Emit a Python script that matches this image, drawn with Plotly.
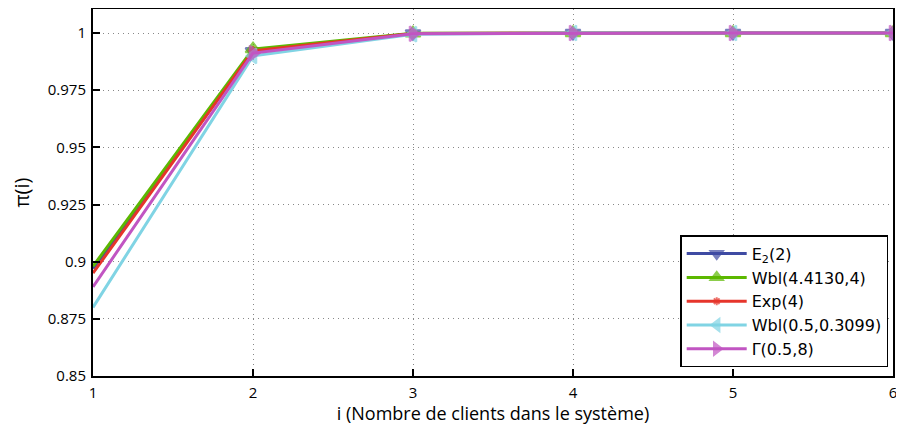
import plotly.graph_objects as go

x = [1, 2, 3, 4, 5, 6]
names = ["E<sub>2</sub>(2)", "Wbl(4.4130,4)", "Exp(4)", "Wbl(0.5,0.3099)", "Γ(0.5,8)"]
e2 = [0.897, 0.9920, 0.9998, 1.0, 1.0, 1.0]
wbl1 = [0.898, 0.9930, 0.9999, 1.0, 1.0, 1.0]
exp4 = [0.895, 0.9922, 0.9998, 1.0, 1.0, 1.0]
wbl2 = [0.880, 0.9900, 0.9995, 1.0, 1.0, 1.0]
gam = [0.889, 0.9912, 0.9997, 1.0, 1.0, 1.0]
series = [e2, wbl1, exp4, wbl2, gam]
colors = ["#3f4ba3", "#5cb800", "#e6352b", "#80d4e4", "#c155c2"]
symbols = ["triangle-down", "triangle-up", "asterisk", "triangle-left", "triangle-right"]
sizes = [13, 13, 8, 13, 13]

fig = go.Figure()
for n, y, c, s, sz in zip(names, series, colors, symbols, sizes):
    fig.add_trace(go.Scatter(
        x=x, y=y, name=n, mode="lines+markers",
        line=dict(color=c, width=3),
        marker=dict(symbol=s, size=[0] + [sz] * (len(x) - 1), color=c,
                    line=dict(color=c, width=2)),
    ))

tick_font = dict(family="Open Sans, DejaVu Sans, sans-serif", size=15, color="black")
axis_common = dict(
    showline=True, linecolor="black", linewidth=2, mirror=True,
    ticks="inside", ticklen=7, tickcolor="black", tickwidth=1.5,
    showgrid=True, gridcolor="#888", griddash="1px,4px", gridwidth=1,
    zeroline=False, tickfont=tick_font, automargin=False,
)
fig.update_layout(
    width=896, height=417,
    margin=dict(l=85, r=11, t=1, b=49),
    paper_bgcolor="white", plot_bgcolor="white",
    font=tick_font,
    showlegend=True,
    legend=dict(
        x=0.994, y=0.024, xanchor="right", yanchor="bottom",
        bordercolor="black", borderwidth=1.5, bgcolor="white",
        font=dict(family="DejaVu Sans, sans-serif", size=16, color="black"),
        tracegroupgap=0, itemwidth=60,
    ),
    xaxis=dict(axis_common, range=[1, 6], tickvals=[1, 2, 3, 4, 5, 6],
               ticklabelstandoff=2,
               title=dict(text="i (Nombre de clients dans le système)",
                          font=dict(size=18), standoff=5)),
    yaxis=dict(axis_common, range=[0.85, 1.0105],
               tickvals=[0.85, 0.875, 0.9, 0.925, 0.95, 0.975, 1],
               ticktext=["0.85", "0.875", "0.9", "0.925", "0.95", "0.975", "1"],
               ticklabelstandoff=2,
               title=dict(text="π(i)", font=dict(size=20), standoff=24)),
)
fig.write_html("out.html")
